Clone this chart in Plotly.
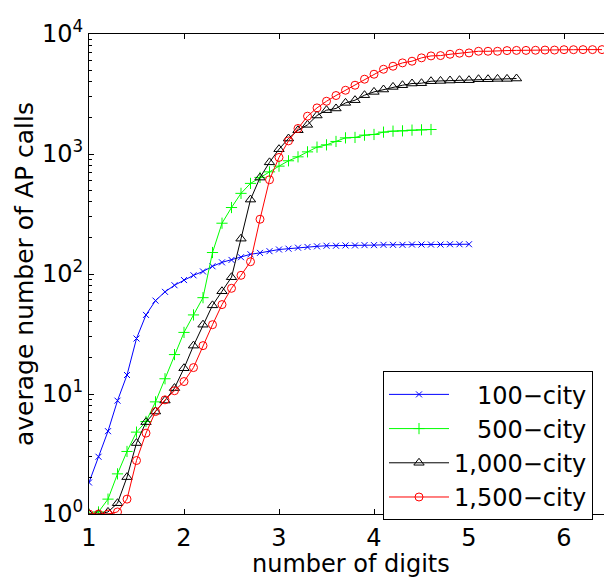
import plotly.graph_objects as go

# ---------------- data ----------------
digits = [1.0, 1.1, 1.2, 1.3, 1.4, 1.5, 1.6, 1.7, 1.8, 1.9,
          2.0, 2.1, 2.2, 2.3, 2.4, 2.5, 2.6, 2.7, 2.8, 2.9,
          3.0, 3.1, 3.2, 3.3, 3.4, 3.5, 3.6, 3.7, 3.8, 3.9,
          4.0, 4.1, 4.2, 4.3, 4.4, 4.5, 4.6, 4.7, 4.8, 4.9,
          5.0, 5.1, 5.2, 5.3, 5.4, 5.5, 5.6, 5.7, 5.8, 5.9,
          6.0, 6.1, 6.2, 6.3, 6.4]

calls_100 = [1.83, 3.0, 4.9, 8.8, 14.4, 29.0, 45.6, 60.0, 71.0, 80.6,
             89.0, 97.5, 105.0, 116.0, 125.0, 131.0, 138.0, 146.0, 150.0, 155.0,
             160.0, 162.5, 165.7, 168.0, 170.0, 172.0, 172.0, 173.0, 173.0, 174.0,
             174.0, 175.0, 175.0, 175.0, 176.0, 176.0, 176.0, 176.0, 177.0, 177.0,
             177.0]

calls_500 = [1.0, 1.04, 1.33, 2.16, 3.32, 4.81, 5.9, 8.6, 13.4, 21.3,
             32.6, 45.6, 63.5, 151.0, 265.0, 358.0, 470.0, 569.0, 638.0, 710.0,
             792.0, 878.0, 947.0, 1042.0, 1141.0, 1192.0, 1272.0, 1363.0, 1374.0, 1436.0,
             1455.0, 1521.0, 1550.0, 1559.0, 1581.0, 1590.0, 1600.0]

calls_1000 = [1.0, 1.0, 1.04, 1.23, 2.03, 3.9, 5.83, 7.14, 8.82, 11.2,
              16.4, 25.3, 37.8, 54.8, 71.8, 94.0, 197.0, 417.0, 636.0, 852.0,
              1097.0, 1346.0, 1578.0, 1749.0, 2093.0, 2318.0, 2395.0, 2667.0, 2808.0, 3090.0,
              3292.0, 3447.0, 3623.0, 3742.0, 3866.0, 3890.0, 4040.0, 4064.0, 4096.0, 4121.0,
              4121.0, 4200.0, 4200.0, 4225.0, 4225.0, 4255.0]

calls_1500 = [1.0, 1.0, 1.0, 1.04, 1.33, 2.79, 4.72, 7.14, 8.94, 10.65,
              12.7, 16.6, 25.3, 37.8, 55.6, 76.0, 97.5, 126.6, 286.0, 610.0,
              936.0, 1286.0, 1632.0, 2066.0, 2422.0, 2752.0, 3071.0, 3398.0, 3742.0, 4200.0,
              4622.0, 5085.0, 5388.0, 5744.0, 5933.0, 6328.0, 6566.0, 6610.0, 6777.0, 6914.0,
              6955.0, 7179.0, 7179.0, 7179.0, 7275.0, 7300.0, 7300.0, 7320.0, 7350.0, 7350.0,
              7400.0, 7400.0, 7410.0, 7410.0, 7413.0]

series_names = ["\u2007\u2008100\u2212city", "\u2007\u2008500\u2212city",
                "1,000\u2212city", "1,500\u2212city"]

x_tick_vals = [1, 2, 3, 4, 5, 6]
x_tick_text = ["1", "2", "3", "4", "5", "6"]
y_tick_vals = [1, 10, 100, 1000, 10000]
y_tick_text = ["10<sup>0</sup>", "10<sup>1</sup>", "10<sup>2</sup>",
               "10<sup>3</sup>", "10<sup>4</sup>"]
y_minor_vals = [m * d for d in (1, 10, 100, 1000) for m in range(2, 10)]

# ---------------- figure ----------------
FONT = "DejaVu Sans"
styles = [
    dict(color="#0000ff", symbol="x-thin-open", size=6),
    dict(color="#00ff00", symbol="cross-thin-open", size=8),
    dict(color="#000000", symbol="triangle-up-open", size=9),
    dict(color="#ff0000", symbol="circle-open", size=8),
]
all_series = [calls_100, calls_500, calls_1000, calls_1500]

fig = go.Figure()
for name, vals, st in zip(series_names, all_series, styles):
    fig.add_trace(go.Scatter(
        x=digits[:len(vals)], y=vals, name=name, mode="lines+markers",
        line=dict(color=st["color"], width=1),
        marker=dict(symbol=st["symbol"], size=st["size"], color=st["color"],
                    line=dict(color=st["color"], width=1)),
    ))

fig.update_layout(
    width=604, height=577,
    margin=dict(l=89, r=0, t=34, b=63),
    paper_bgcolor="white", plot_bgcolor="white",
    font=dict(family=FONT, size=24, color="black"),
    showlegend=True,
    legend=dict(
        x=(383 - 89) / 515, y=(514.3 - 371.5) / 480.3,
        xanchor="left", yanchor="top",
        bgcolor="white", bordercolor="black", borderwidth=1,
        font=dict(family=FONT, size=24, color="black"),
        itemwidth=60, tracegroupgap=0,
    ),
    xaxis=dict(
        range=[1, 1 + (604 - 89) / 95.0],
        tickmode="array", tickvals=x_tick_vals, ticktext=x_tick_text,
        ticks="inside", ticklen=5, tickcolor="black", tickwidth=1,
        showline=True, linecolor="black", linewidth=1, mirror="ticks",
        showgrid=False, zeroline=False, ticklabelstandoff=2,
        tickfont=dict(family=FONT, size=24, color="black"),
    ),
    yaxis=dict(
        type="log", range=[0, 4],
        tickmode="array", tickvals=y_tick_vals, ticktext=y_tick_text,
        ticks="inside", ticklen=5, tickcolor="black", tickwidth=1,
        minor=dict(tickmode="array", tickvals=y_minor_vals, ticks="inside",
                   ticklen=3, tickcolor="black", showgrid=False),
        showline=True, linecolor="black", linewidth=1, mirror=False,
        showgrid=False, zeroline=False,
        tickfont=dict(family=FONT, size=24, color="black"),
    ),
    annotations=[
        dict(text="number of digits", xref="paper", yref="paper",
             x=(350.5 - 89) / 515, y=0, xanchor="center", yanchor="middle",
             yshift=-50, showarrow=False,
             font=dict(family=FONT, size=24, color="black")),
        dict(text="average number of AP calls", xref="paper", yref="paper",
             x=0, y=0.5, xanchor="center", yanchor="middle", xshift=-65,
             textangle=-90, showarrow=False,
             font=dict(family=FONT, size=25, color="black")),
    ],
)

fig.write_html(
    "out.html",
    config={"displayModeBar": False},
    post_script="document.body.style.margin='0px';"
                "document.body.style.overflow='hidden';",
)
